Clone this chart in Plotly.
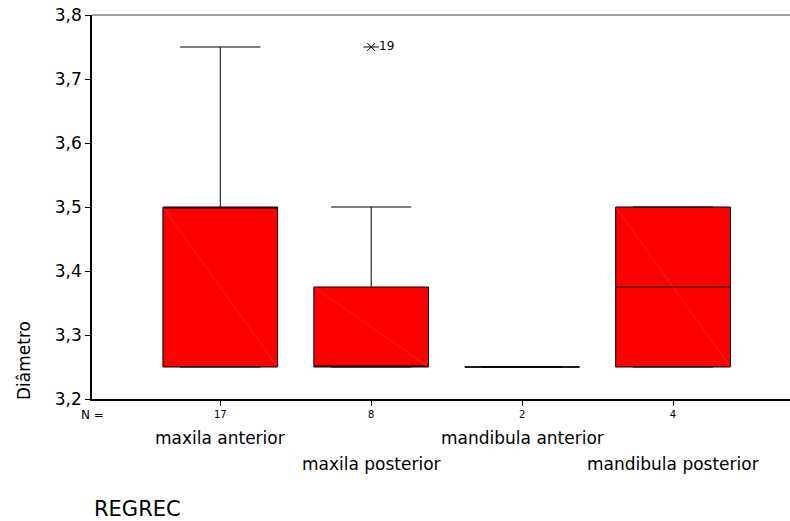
import plotly.graph_objects as go

# ---- data ----
categories = ["maxila anterior", "maxila posterior", "mandibula anterior", "mandibula posterior"]
n_counts = [17, 8, 2, 4]
positions = [0, 1, 2, 3]
q1 = [3.25, 3.25, 3.25, 3.25]
median = [3.50, 3.25, 3.25, 3.375]
q3 = [3.50, 3.375, 3.25, 3.50]
lowerfence = [3.25, 3.25, 3.25, 3.25]
upperfence = [3.75, 3.50, 3.25, 3.50]
outlier_pos = [1]
outlier_val = [3.75]
outlier_label = ["19"]
y_ticks = [3.2, 3.3, 3.4, 3.5, 3.6, 3.7, 3.8]

BOX_W = 0.76
FONT = "DejaVu Sans"

fig = go.Figure()

fig.add_trace(go.Box(
    x=positions, q1=q1, median=median, q3=q3,
    lowerfence=lowerfence, upperfence=upperfence,
    width=BOX_W, whiskerwidth=0.7,
    fillcolor="#ff0000", line=dict(color="#000000", width=1),
    boxpoints=False, showlegend=False, hoverinfo="skip",
))

# faint diagonal artefact inside each box (top-left to bottom-right)
for p, a, b in zip(positions, q3, q1):
    if a != b:
        fig.add_trace(go.Scatter(
            x=[p - BOX_W / 2, p + BOX_W / 2], y=[a, b], mode="lines",
            line=dict(color="#ff3c3c", width=0.5), showlegend=False, hoverinfo="skip",
        ))

# outlier
fig.add_trace(go.Scatter(
    x=outlier_pos, y=outlier_val, mode="markers",
    marker=dict(symbol="x-thin-open", size=8, color="#000000",
                line=dict(color="#000000", width=1)),
    showlegend=False, hoverinfo="skip",
))
fig.add_trace(go.Scatter(
    x=outlier_pos, y=outlier_val, mode="markers+text",
    marker=dict(symbol="line-ew-open", size=11, color="#000000",
                line=dict(color="#000000", width=1)),
    text=outlier_label, textposition="middle right",
    textfont=dict(family=FONT, size=12, color="#000000"),
    showlegend=False, hoverinfo="skip",
))

# category labels, staggered in two rows
for i, (p, c) in enumerate(zip(positions, categories)):
    fig.add_annotation(
        x=p, xref="x", y=0, yref="paper",
        yshift=-39 if i % 2 == 0 else -65,
        text=c, showarrow=False, xanchor="center", yanchor="middle",
        font=dict(family=FONT, size=17, color="#000000"),
    )

fig.add_annotation(x=0, xref="paper", y=0, yref="paper", yshift=-16, xshift=0,
                   text="N =", showarrow=False, xanchor="center", yanchor="middle",
                   font=dict(family=FONT, size=12, color="#000000"))
fig.add_annotation(x=0, xref="paper", y=0, yref="paper", yshift=-110,
                   text="REGREC", showarrow=False, xanchor="left", yanchor="middle",
                   font=dict(family=FONT, size=21, color="#000000"))
fig.add_annotation(x=0, xref="paper", xshift=-68, y=0, yref="paper", yshift=38,
                   text="Diâmetro", textangle=-90, showarrow=False,
                   xanchor="center", yanchor="middle",
                   font=dict(family=FONT, size=17, color="#000000"))

# top frame line
fig.add_shape(type="line", xref="paper", yref="paper", x0=0, x1=1, y0=1, y1=1,
              line=dict(color="#808080", width=1.5))

fig.update_layout(
    width=790, height=521,
    margin=dict(l=92, r=0, t=15, b=122),
    paper_bgcolor="#ffffff", plot_bgcolor="#ffffff",
    separators=",.",
    font=dict(family=FONT, color="#000000"),
)
fig.update_xaxes(
    range=[-0.85, 3.775], tickvals=positions, ticktext=[str(n) for n in n_counts],
    ticks="outside", ticklen=5, tickcolor="#000000", tickwidth=1,
    showline=True, linecolor="#000000", linewidth=2,
    showgrid=False, zeroline=False, tickfont=dict(family=FONT, size=10),
)
fig.update_yaxes(
    range=[3.2, 3.8], tickvals=y_ticks, tickformat=".1f",
    ticks="outside", ticklen=5, tickcolor="#000000", tickwidth=1,
    showline=True, linecolor="#000000", linewidth=1.5,
    showgrid=False, zeroline=False, tickfont=dict(family=FONT, size=17),
)

fig.write_html(
    "out.html",
    config={"displayModeBar": False},
    post_script="document.body.style.margin='0';"
                "document.body.style.overflow='hidden';"
                "document.documentElement.style.overflow='hidden';",
)
